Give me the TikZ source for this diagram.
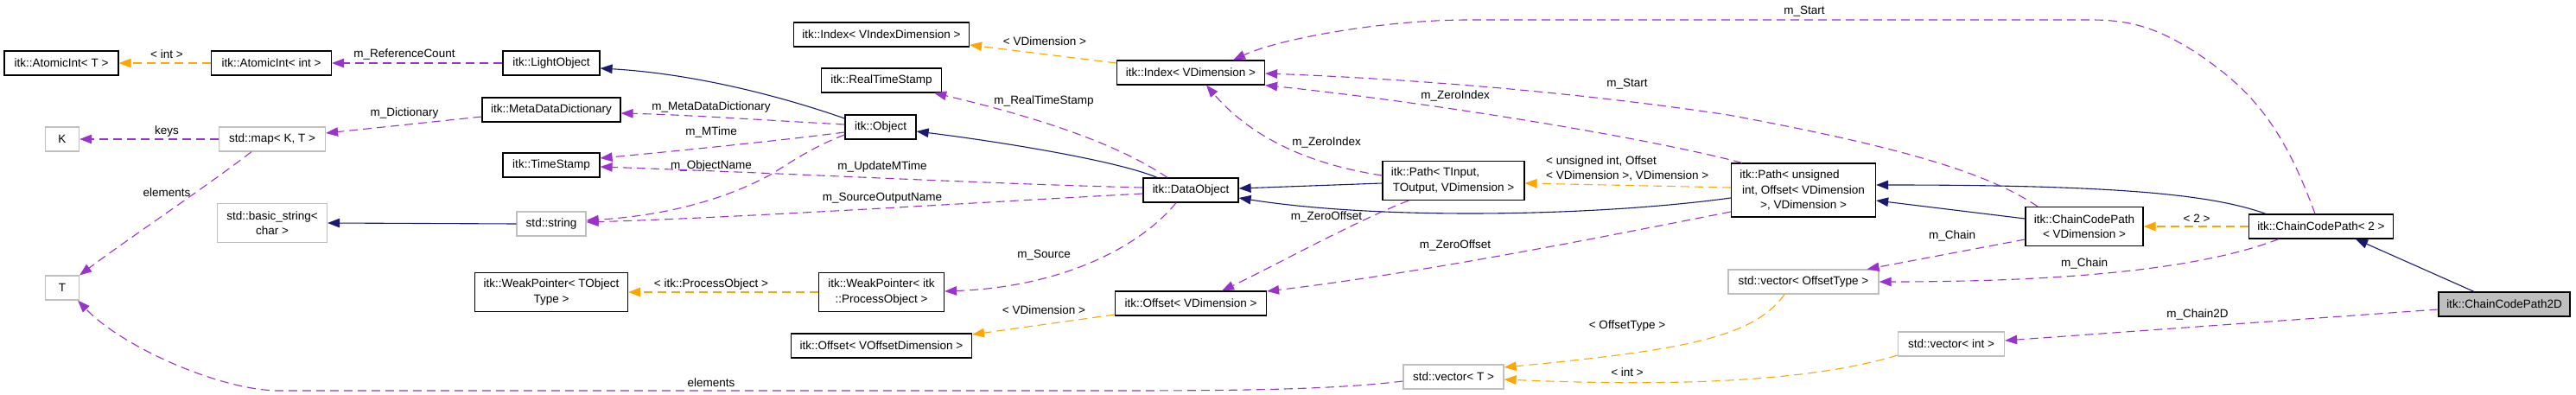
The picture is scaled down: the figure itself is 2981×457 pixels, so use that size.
\documentclass[tikz,border=0pt]{standalone}
\usepackage{fontspec}
\setmainfont{Liberation Sans}
\usetikzlibrary{arrows.meta}
\definecolor{inhc}{HTML}{191970}
\definecolor{usec}{HTML}{9A32CD}
\definecolor{tplc}{HTML}{FFA500}
\definecolor{grayb}{HTML}{BFBFBF}
\tikzset{
  clsbox/.style={draw=black, line width=1.2pt, inner sep=0pt, align=center, minimum height=28pt},
  extbox/.style={clsbox, draw=grayb},
  edgebase/.style={line width=1.1pt, -{Triangle[length=14pt,width=10.5pt]}},
  edgeinh/.style={edgebase, draw=inhc, fill=none},
  edgeuse/.style={edgebase, draw=usec, dash pattern=on 10pt off 6pt},
  edgetpl/.style={edgebase, draw=tplc, dash pattern=on 10pt off 6pt},
  lbl/.style={inner sep=0pt, anchor=center}
}
\begin{document}
\begin{tikzpicture}[x=1pt, y=-1pt, font=\fontsize{13.5}{17.5}\selectfont]
\useasboundingbox (0,0) rectangle (2981,457);
% nodes
\node[clsbox, minimum width=132pt] (AIT) at (71,73) {itk::AtomicInt< T >};
\node[clsbox, minimum width=139pt] (AII) at (314,73) {itk::AtomicInt< int >};
\node[clsbox, minimum width=112pt] (LO) at (638,73) {itk::LightObject};
\node[extbox, minimum width=39pt] (K) at (72,161) {K};
\node[extbox, minimum width=123pt] (MAP) at (315,161) {std::map< K, T >};
\node[clsbox, minimum width=160pt] (MDD) at (638,127) {itk::MetaDataDictionary};
\node[clsbox, minimum width=112pt] (TS) at (638,191) {itk::TimeStamp};
\node[extbox, minimum width=127pt, minimum height=45pt] (BS) at (315,258) {std::basic\_string<\\char >};
\node[extbox, minimum width=80pt] (STR) at (638,259) {std::string};
\node[extbox, minimum width=39pt] (T) at (72,333) {T};
\node[clsbox, minimum width=177pt, minimum height=45pt] (WPT) at (638,338) {itk::WeakPointer< TObject\\Type >};
\node[clsbox, minimum width=203pt] (IVI) at (1020,40) {itk::Index< VIndexDimension >};
\node[clsbox, minimum width=139pt] (RTS) at (1020,93) {itk::RealTimeStamp};
\node[clsbox, minimum width=82pt] (OBJ) at (1019,147) {itk::Object};
\node[clsbox, minimum width=145pt, minimum height=45pt] (WPPO) at (1020,338) {itk::WeakPointer< itk\\::ProcessObject >};
\node[clsbox, minimum width=209pt] (OVO) at (1020,400) {itk::Offset< VOffsetDimension >};
\node[clsbox, minimum width=171pt] (IVD) at (1378,84) {itk::Index< VDimension >};
\node[clsbox, minimum width=110pt] (DO) at (1378,220) {itk::DataObject};
\node[clsbox, minimum width=175pt] (OVD) at (1378,351) {itk::Offset< VDimension >};
\node[clsbox, minimum width=164pt, minimum height=45pt] (PT) at (1682,209) {itk::Path< TInput,\hspace*{42pt}\\TOutput, VDimension >};
\node[extbox, minimum width=116pt] (VT) at (1682,436) {std::vector< T >};
\node[clsbox, minimum width=167pt, minimum height=62pt] (PU) at (2087,220) {itk::Path< unsigned\hspace*{32pt}\\int, Offset< VDimension\\>, VDimension >};
\node[extbox, minimum width=174pt] (VOT) at (2087,326) {std::vector< OffsetType >};
\node[extbox, minimum width=123pt] (VI) at (2258,398) {std::vector< int >};
\node[clsbox, minimum width=136pt, minimum height=45pt] (CCPV) at (2412,262) {itk::ChainCodePath\\< VDimension >};
\node[clsbox, minimum width=167pt] (CCP2) at (2686,262) {itk::ChainCodePath< 2 >};
\node[clsbox, minimum width=152pt, fill=grayb] (CCP2D) at (2898,352) {itk::ChainCodePath2D};
% edges
\draw[edgetpl] (AII.west) -- (AIT.east);
\node[lbl] (L1) at (193,63) {< int >};
\draw[edgeuse] (LO.west) -- (AII.east);
\node[lbl] (L2) at (468,63) {m\_ReferenceCount};
\draw[edgeinh] ([yshift=10pt]OBJ.west) .. controls (900,110) and (800,85) .. ([yshift=-6pt]LO.east);
\draw[edgeuse] ([yshift=3pt]OBJ.west) .. controls (900,140) and (800,133) .. ([yshift=-4pt]MDD.east);
\node[lbl] (L3) at (823,124) {m\_MetaDataDictionary};
\draw[edgeuse] ([yshift=-6pt]OBJ.west) .. controls (900,163) and (780,175) .. ([yshift=8pt]TS.east);
\node[lbl] (L4) at (823,153) {m\_MTime};
\draw[edgeuse] ([yshift=-9pt]OBJ.west) .. controls (940,170) and (915,188) .. (890,203) .. controls (830,235) and (760,250) .. ([yshift=4pt]STR.east);
\node[lbl] (L5) at (823,192) {m\_ObjectName};
\draw[edgeuse] ([yshift=3pt]DO.west) .. controls (1150,213) and (900,200) .. ([yshift=-2pt]TS.east);
\node[lbl] (L6) at (1021,193) {m\_UpdateMTime};
\draw[edgeuse] ([yshift=-4pt]DO.west) .. controls (1100,236) and (850,252) .. ([yshift=2pt]STR.east);
\node[lbl] (L7) at (1021,229) {m\_SourceOutputName};
\draw[edgeinh] ([xshift=-39pt]DO.north) .. controls (1290,185) and (1150,163) .. ([yshift=-5pt]OBJ.east);
\draw[edgeuse] ([xshift=-27pt]DO.north) .. controls (1310,178) and (1240,145) .. ([xshift=-9pt]RTS.south east);
\node[lbl] (L8) at (1208,117) {m\_RealTimeStamp};
\draw[edgeuse] ([xshift=-17pt]DO.south) .. controls (1320,285) and (1230,332) .. ([yshift=1pt]WPPO.east);
\node[lbl] (L9) at (1208,295) {m\_Source};
\draw[edgetpl] (WPPO.west) -- (WPT.east);
\node[lbl] (L10) at (823,329) {< itk::ProcessObject >};
\draw[edgetpl] ([yshift=11pt]IVD.west) -- ([yshift=-12pt]IVI.east);
\node[lbl] (L11) at (1209,48) {< VDimension >};
\draw[edgetpl] ([yshift=-13pt]OVD.west) -- ([yshift=13pt]OVO.east);
\node[lbl] (L12) at (1208,359) {< VDimension >};
\draw[edgeinh] ([yshift=-3pt]PT.west) -- ([yshift=2pt]DO.east);
\draw[edgeuse] ([yshift=6pt]PT.west) .. controls (1500,188) and (1440,150) .. ([xshift=18pt]IVD.south);
\node[lbl] (L13) at (1535,165) {m\_ZeroIndex};
\draw[edgeuse] ([xshift=-52pt]PT.south) .. controls (1570,255) and (1470,310) .. ([xshift=36pt]OVD.north);
\node[lbl] (L14) at (1535,251) {m\_ZeroOffset};
\draw[edgetpl] ([yshift=3pt]PU.west) -- ([yshift=-3pt]PT.east);
\node[lbl, anchor=west, align=left] (L15) at (1789,195) {< unsigned int, Offset\\< VDimension >, VDimension >};
\draw[edgeinh] ([yshift=-9pt]PU.west) .. controls (1850,250) and (1600,255) .. ([yshift=-9pt]DO.east);
\draw[edgeuse] ([xshift=-71pt]PU.north) .. controls (1900,158) and (1650,118) .. (IVD.south east);
\node[lbl] (L16) at (1684,111) {m\_ZeroIndex};
\draw[edgeuse] ([yshift=-25pt]PU.west) .. controls (1850,275) and (1650,315) .. ([yshift=14pt]OVD.east);
\node[lbl] (L17) at (1684,284) {m\_ZeroOffset};
\draw[edgeinh] ([yshift=9pt]CCPV.west) -- ([yshift=-12pt]PU.east);
\draw[edgeuse] ([xshift=-54pt]CCPV.north) .. controls (2300,200) and (2200,170) .. (2000,133) .. controls (1800,103) and (1600,90) .. ([yshift=-1pt]IVD.east);
\node[lbl] (L18) at (1883,97) {m\_Start};
\draw[edgeuse] ([yshift=-15pt]CCPV.west) -- ([xshift=-14pt]VOT.north east);
\node[lbl] (L19) at (2259,273) {m\_Chain};
\draw[edgetpl] (CCP2.west) -- (CCPV.east);
\node[lbl] (L20) at (2542,253) {< 2 >};
\draw[edgeinh] ([xshift=-64pt]CCP2.north) .. controls (2560,225) and (2450,214) .. ([yshift=6pt]PU.east);
\draw[edgeuse] ([xshift=-7pt]CCP2.north) .. controls (2640,140) and (2600,100) .. (2540,60) .. controls (2500,35) and (2470,23) .. (2420,23) -- (1700,23) .. controls (1600,23) and (1480,45) .. ([xshift=49pt]IVD.north);
\node[lbl] (L21) at (2088,13) {m\_Start};
\draw[edgeuse] ([xshift=-49pt]CCP2.south) .. controls (2550,310) and (2400,326) .. (VOT.east);
\node[lbl] (L22) at (2412,305) {m\_Chain};
\draw[edgeinh] ([xshift=-35pt]CCP2D.north) -- ([xshift=40pt]CCP2.south);
\draw[edgeuse] ([yshift=-6pt]CCP2D.west) -- ([yshift=4pt]VI.east);
\node[lbl] (L23) at (2543,364) {m\_Chain2D};
\draw[edgetpl] ([xshift=-22pt]VOT.south) .. controls (2030,390) and (1950,405) .. ([yshift=11pt]VT.east);
\node[lbl] (L24) at (1883,377) {< OffsetType >};
\draw[edgetpl] ([yshift=-13pt]VI.west) .. controls (2100,440) and (1950,448) .. ([yshift=-3pt]VT.east);
\node[lbl] (L25) at (1883,431) {< int >};
\draw[edgeuse] ([yshift=-5pt]VT.west) .. controls (1550,450) and (1450,452) .. (1300,452) -- (320,452) .. controls (250,450) and (140,400) .. ([xshift=-2pt]T.south east);
\node[lbl] (L26) at (823,443) {elements};
\draw[edgeuse] ([xshift=-24pt]MAP.south) .. controls (240,215) and (150,275) .. (T.north east);
\node[lbl] (L27) at (193,223) {elements};
\draw[edgeuse] ([yshift=-8pt]MDD.west) -- ([yshift=7pt]MAP.east);
\node[lbl] (L28) at (468,131) {m\_Dictionary};
\draw[edgeuse] (MAP.west) -- (K.east);
\node[lbl] (L29) at (193,152) {keys};
\draw[edgeinh] (STR.west) -- (BS.east);
\end{tikzpicture}
\end{document}
